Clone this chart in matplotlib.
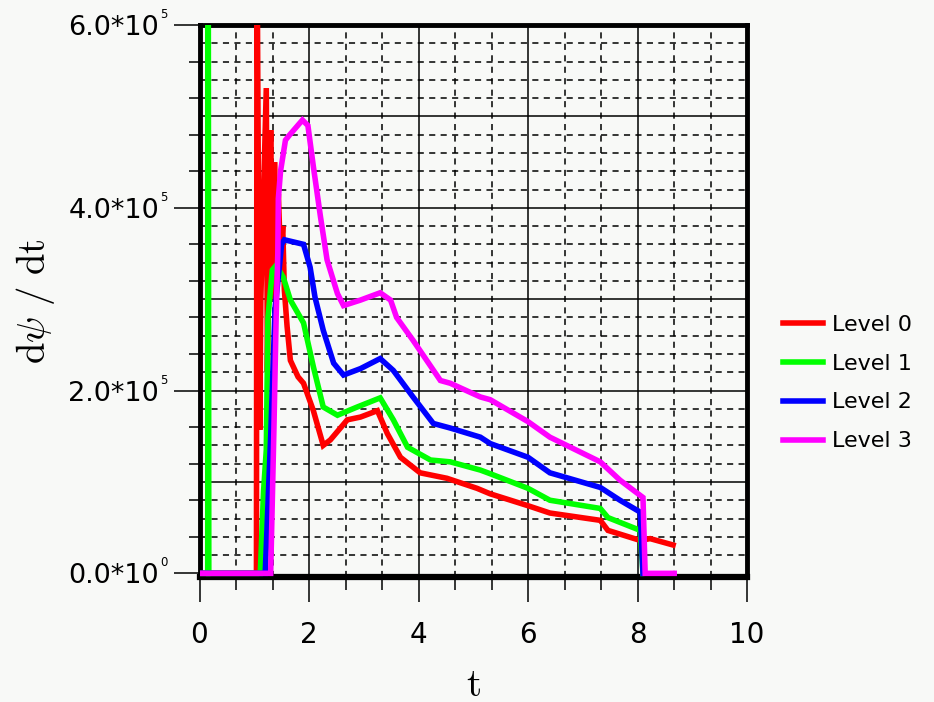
import numpy as np
import matplotlib
matplotlib.use("Agg")
import matplotlib.pyplot as plt
from matplotlib.ticker import MultipleLocator, FixedLocator

plt.rcParams['font.family'] = ['DejaVu Sans']
plt.rcParams['mathtext.fontset'] = 'cm'

# data, y in units of 1e5
t0 = [0, 1.04, 1.05, 1.10, 1.12, 1.22, 1.24, 1.30, 1.33, 1.37, 1.41, 1.44, 1.48,
      1.52, 1.55, 1.60, 1.66, 1.80, 1.90, 2.08, 2.26, 2.39, 2.70, 2.94, 3.25,
      3.43, 3.67, 4.03, 4.52, 5.07, 5.31, 6.0, 6.4, 7.32, 7.46, 8.05, 8.23, 8.65]
y0 = [0, 0, 7.0, 1.57, 3.0, 5.31, 2.2, 4.85, 3.0, 4.5, 3.4, 4.15, 3.45,
      3.8, 3.1, 2.7, 2.33, 2.15, 2.08, 1.78, 1.40, 1.46, 1.68, 1.71, 1.78,
      1.53, 1.27, 1.10, 1.04, 0.93, 0.87, 0.74, 0.66, 0.58, 0.47, 0.36, 0.38, 0.31]

t1 = [0, 0.15, 0.16, 0.17, 1.11, 1.17, 1.22, 1.25, 1.33, 1.40, 1.53, 1.66, 1.90,
      2.08, 2.26, 2.52, 2.88, 3.30, 3.54, 3.80, 4.22, 4.58, 5.13, 5.31, 6.0,
      6.4, 7.32, 7.46, 8.05, 8.10]
y1 = [0, 0, 7.0, 0, 0, 0.9, 1.35, 2.8, 3.32, 3.37, 3.24, 2.99, 2.74,
      2.26, 1.82, 1.73, 1.82, 1.92, 1.68, 1.38, 1.24, 1.22, 1.13, 1.09, 0.93,
      0.80, 0.71, 0.61, 0.47, 0]

t2 = [0, 1.20, 1.30, 1.38, 1.45, 1.50, 1.55, 1.90, 2.02, 2.11, 2.26, 2.45, 2.63,
      2.94, 3.30, 3.54, 3.90, 4.27, 4.58, 5.13, 5.31, 6.0, 6.4, 7.32, 7.68,
      8.05, 8.10]
y2 = [0, 0, 1.5, 2.9, 3.3, 3.6, 3.65, 3.6, 3.35, 3.02, 2.66, 2.30, 2.17,
      2.24, 2.35, 2.22, 1.93, 1.64, 1.59, 1.49, 1.42, 1.27, 1.10, 0.94, 0.80,
      0.67, 0]

t3 = [0, 1.30, 1.36, 1.40, 1.43, 1.44, 1.48, 1.57, 1.65, 1.88, 1.98, 2.08, 2.21,
      2.33, 2.52, 2.63, 2.94, 3.30, 3.49, 3.60, 3.90, 4.40, 4.58, 5.13, 5.31,
      6.0, 6.4, 7.32, 7.68, 8.10, 8.14, 8.67]
y3 = [0, 0, 1.6, 2.8, 3.5, 4.1, 4.4, 4.74, 4.8, 4.96, 4.9, 4.45, 3.9,
      3.43, 3.06, 2.93, 2.99, 3.07, 2.99, 2.8, 2.55, 2.11, 2.08, 1.93, 1.90,
      1.66, 1.49, 1.22, 1.02, 0.83, 0, 0]

labels = ["Level 0", "Level 1", "Level 2", "Level 3"]
colors = ["#ff0000", "#00ff00", "#0000ff", "#ff00ff"]

xticks = [0, 2, 4, 6, 8, 10]
yticks = [0, 2e5, 4e5, 6e5]
ytick_mant = ["0.0*10", "2.0*10", "4.0*10", "6.0*10"]
ytick_exp = ["0", "5", "5", "5"]

bg = "#f8f9f7"
fig = plt.figure(figsize=(9.34, 7.02), dpi=100, facecolor=bg)
ax = fig.add_axes([199.5 / 934, 1 - 577 / 702, 547.5 / 934, 552 / 702], facecolor=bg)

ax.set_xlim(0, 10)
ax.set_ylim(-4000, 6e5)

# grid: solid every 2 / 1e5, dashed every 2/3 / 2e4
for xv in np.arange(2, 10, 2):
    ax.axvline(xv, color="black", lw=1.1, zorder=1)
for xv in np.arange(1, 15) * (2 / 3):
    if abs(xv / 2 - round(xv / 2)) > 1e-6 and xv < 10:
        ax.axvline(xv, color="black", lw=1.1, ls=(0, (4, 3.5)), zorder=1)
for yv in np.arange(1, 6) * 1e5:
    ax.axhline(yv, color="black", lw=1.1, zorder=1)
for yv in np.arange(1, 30) * 2e4:
    if int(round(yv)) % 100000 != 0:
        ax.axhline(yv, color="black", lw=1.1, ls=(0, (4, 3.5)), zorder=1)

series = [(t0, y0), (t1, y1), (t2, y2), (t3, y3)]
for (tt, yy), c, lab in zip(series, colors, labels):
    ax.plot(tt, np.array(yy) * 1e5, color=c, lw=4, label=lab, zorder=6,
            solid_joinstyle="miter")

for s in ["left", "right", "top"]:
    ax.spines[s].set_linewidth(3.5)
ax.spines["bottom"].set_linewidth(4.5)
for s in ax.spines.values():
    s.set_zorder(5)

ax.xaxis.set_minor_locator(FixedLocator(np.arange(0, 16) * (2 / 3)))
ax.yaxis.set_minor_locator(FixedLocator(np.arange(0, 16) * 4e4))
ax.set_xticks(xticks)
ax.set_xticklabels([str(v) for v in xticks])
ax.set_yticks(yticks)
ax.set_yticklabels(ytick_mant)

ax.tick_params(axis="x", which="major", direction="out", length=18, width=1.1,
               pad=14, labelsize=20)
ax.tick_params(axis="x", which="minor", direction="out", length=9.5, width=1.1)
ax.tick_params(axis="y", which="major", direction="out", length=19, width=1.1,
               pad=10, labelsize=19.5)
ax.tick_params(axis="y", which="minor", direction="out", length=8, width=1.1)

# small raised exponents next to the y tick labels
for yv, e in zip(yticks, ytick_exp):
    ax.annotate(e, xy=(0, yv), xycoords=("axes fraction", "data"),
                xytext=(-28.5, 7.5), textcoords="offset points",
                ha="left", va="center", fontsize=8.5)

ax.set_xlabel(r"$\mathrm{t}$", fontsize=28)
ax.xaxis.label.set_va("center")
ax.xaxis.set_label_coords(0.5, -0.195)
ax.set_ylabel(r"$\mathrm{d}\psi\ /\ \mathrm{dt}$", fontsize=28)
ax.yaxis.label.set_va("center")
ax.yaxis.set_label_coords(-0.30, 0.5)

fig.legend(loc="center left", bbox_to_anchor=(783 / 934, 1 - 383 / 702),
           frameon=False, fontsize=16, handlelength=1.8, handletextpad=0.4,
           labelspacing=0.85, borderpad=0, borderaxespad=0)

fig.savefig("out.png", dpi=100, facecolor=bg)
